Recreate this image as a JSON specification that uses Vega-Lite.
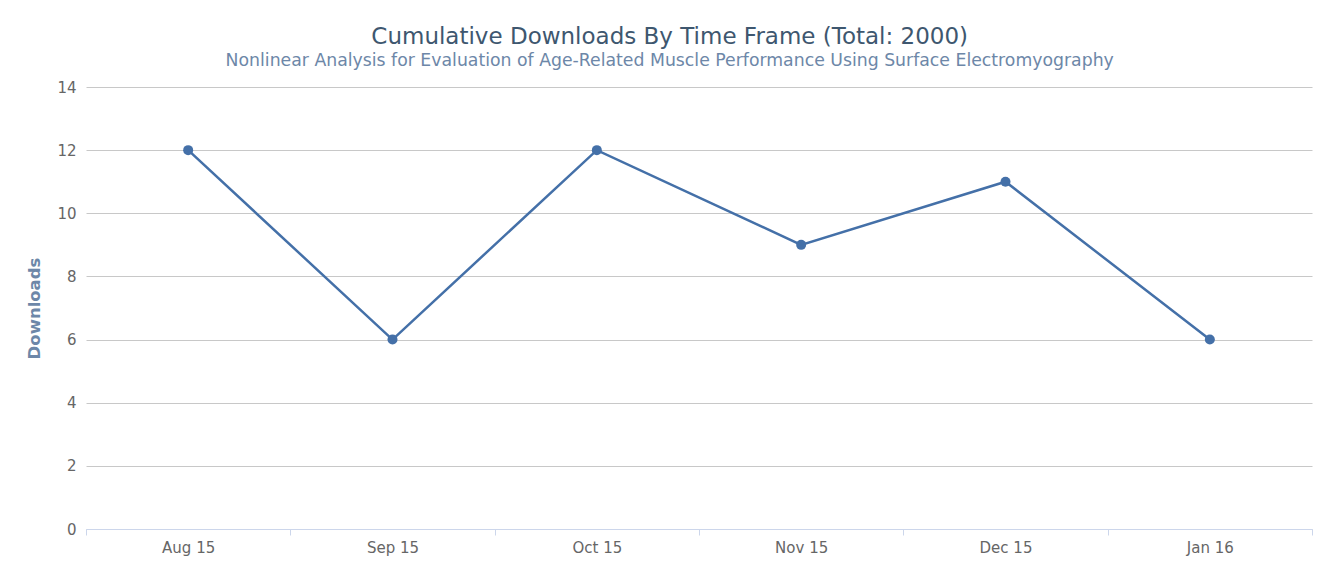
{
  "$schema": "https://vega.github.io/schema/vega-lite/v6.json",
  "width": 1327,
  "height": 564,
  "autosize": {"type": "fit", "contains": "padding"},
  "padding": {"left": 26, "top": 25, "right": 14, "bottom": 9},
  "background": "white",
  "config": {
    "font": "DejaVu Sans",
    "view": {"stroke": null}
  },
  "title": {
    "text": "Cumulative Downloads By Time Frame (Total: 2000)",
    "subtitle": "Nonlinear Analysis for Evaluation of Age-Related Muscle Performance Using Surface Electromyography",
    "anchor": "middle",
    "frame": "bounds",
    "fontSize": 23,
    "fontWeight": "normal",
    "color": "#3e576f",
    "subtitleFontSize": 17.3,
    "subtitleColor": "#6d87a8",
    "subtitlePadding": 3,
    "offset": 11
  },
  "data": {
    "values": [
      {"month": "Aug 15", "downloads": 12},
      {"month": "Sep 15", "downloads": 6},
      {"month": "Oct 15", "downloads": 12},
      {"month": "Nov 15", "downloads": 9},
      {"month": "Dec 15", "downloads": 11},
      {"month": "Jan 16", "downloads": 6}
    ]
  },
  "encoding": {
    "x": {
      "field": "month",
      "type": "ordinal",
      "sort": null,
      "scale": {"type": "band", "paddingInner": 0, "paddingOuter": 0},
      "axis": {
        "title": null,
        "labelAngle": 0,
        "labelFontSize": 15,
        "labelColor": "#666666",
        "labelPadding": 5,
        "tickBand": "extent",
        "domainColor": "#ccd6eb",
        "tickColor": "#ccd6eb",
        "tickSize": 6,
        "grid": false
      }
    },
    "y": {
      "field": "downloads",
      "type": "quantitative",
      "scale": {"domain": [0, 14]},
      "axis": {
        "title": "Downloads",
        "titleFontSize": 16.5,
        "titleFontWeight": "bold",
        "titleColor": "#6d87a8",
        "titlePadding": 14,
        "values": [0, 2, 4, 6, 8, 10, 12, 14],
        "labelFontSize": 15,
        "labelColor": "#666666",
        "labelPadding": 10,
        "domain": false,
        "ticks": false,
        "gridColor": "#c8c8c8",
        "gridWidth": 1
      }
    }
  },
  "layer": [
    {"mark": {"type": "line", "color": "#4470a8", "strokeWidth": 2.5}},
    {"mark": {"type": "point", "filled": true, "color": "#4470a8", "size": 100, "opacity": 1}}
  ]
}
